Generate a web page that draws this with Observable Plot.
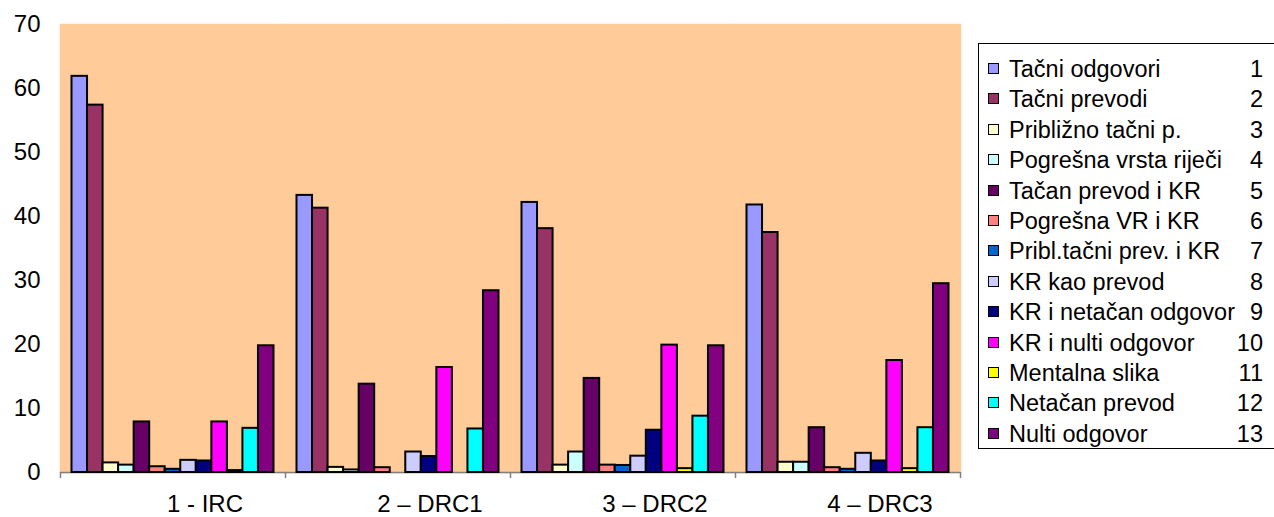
<!DOCTYPE html>
<html>
<head>
<meta charset="utf-8">
<script src="https://cdn.jsdelivr.net/npm/d3@7"></script>
<script src="https://cdn.jsdelivr.net/npm/@observablehq/plot@0.6"></script>
<style>
  html, body { margin: 0; padding: 0; background: #fff; overflow: hidden; }
  #wrap { position: relative; width: 1274px; height: 517px; font-family: "Liberation Sans", Arial, sans-serif; }
  #legend { position: absolute; left: 978px; top: 43px; width: 320px; height: 406px; border: 1px solid #000; box-sizing: border-box; background: #fff; }
  .row { position: absolute; left: 0; height: 30px; width: 296px; font-size: 23.5px; line-height: 30px; color: #000; white-space: nowrap; }
  .sw { position: absolute; left: 9px; top: 9px; width: 9px; height: 9px; border: 1.5px solid #000; }
  .nm { position: absolute; left: 30px; top: 0; }
  .nu { position: absolute; right: 12px; top: 0; }
</style>
</head>
<body>
<div id="wrap"></div>
<script>
// ---- data ----
const groups = ["1 - IRC", "2 \u2013 DRC1", "3 \u2013 DRC2", "4 \u2013 DRC3"];
const seriesNames = [
  "Tačni odgovori", "Tačni prevodi", "Približno tačni p.", "Pogrešna vrsta riječi",
  "Tačan prevod i KR", "Pogrešna VR i KR", "Pribl.tačni prev. i KR", "KR kao prevod",
  "KR i netačan odgovor", "KR i nulti odgovor", "Mentalna slika", "Netačan prevod", "Nulti odgovor"
];
const seriesColors = [
  "#9999FF", "#993366", "#FFFFCC", "#CCFFFF", "#660066", "#FF8080", "#0066CC",
  "#CCCCFF", "#000080", "#FF00FF", "#FFFF00", "#00FFFF", "#800080"
];
const irc  = [61.9, 57.4, 1.5, 1.15, 7.9, 0.9, 0.5, 1.9, 1.8, 7.9, 0.3, 6.9, 19.8];
const drc1 = [43.3, 41.3, 0.8, 0.4, 13.8, 0.75, 0, 3.2, 2.5, 16.4, 0, 6.8, 28.4];
const drc2 = [42.2, 38.1, 1.15, 3.2, 14.7, 1.15, 1.1, 2.55, 6.6, 19.9, 0.6, 8.8, 19.8];
const drc3 = [41.8, 37.5, 1.6, 1.6, 7.0, 0.75, 0.5, 3.0, 1.8, 17.5, 0.6, 7.0, 29.5];
const yTicks = [0, 10, 20, 30, 40, 50, 60, 70];

// ---- build table ----
const groupValues = [irc, drc1, drc2, drc3];
const rows = [];
groups.forEach((g, gi) => {
  groupValues[gi].forEach((v, si) => {
    rows.push({g, i: si + 1, name: seriesNames[si], value: v});
  });
});
const pad = 0.74;
const xDomain = [0.5 - pad, seriesNames.length + 0.5 + pad];
const tickData = groups.map(g => ({g, x: xDomain[0]}));
tickData.push({g: groups[groups.length - 1], x: xDomain[1]});

const chart = Plot.plot({
  width: 1274,
  height: 517,
  marginLeft: 60,
  marginRight: 314,
  marginTop: 24,
  marginBottom: 45,
  style: {fontFamily: '"Liberation Sans", Arial, sans-serif', color: "#000", background: "transparent"},
  fx: {domain: groups, padding: 0, label: null},
  x: {domain: xDomain, axis: null},
  y: {domain: [0, 70], axis: null},
  color: {domain: seriesNames, range: seriesColors},
  marks: [
    Plot.frame({fill: "#FFCC99", stroke: "#FFCC99", strokeWidth: 1.5}),
    Plot.ruleY([0], {stroke: "#808080", strokeWidth: 1.5}),
    Plot.ruleX(tickData, {fx: "g", x: "x", y1: 0, y2: -0.95, stroke: "#808080", strokeWidth: 1.5}),
    Plot.rectY(rows, {
      fx: "g",
      x1: d => d.i - 0.5,
      x2: d => d.i + 0.5,
      y1: 0,
      y2: "value",
      fill: "name",
      stroke: "#000",
      strokeWidth: 2
    }),
    Plot.axisY({ticks: yTicks, tickSize: 0, tickPadding: 20, fontSize: 24, label: null, tickFormat: d => String(d)}),
    Plot.axisFx({anchor: "bottom", tickSize: 0, tickPadding: 22, dx: 32, fontSize: 24, label: null})
  ]
});

const wrap = document.getElementById("wrap");
chart.style.position = "absolute";
chart.style.left = "0px";
chart.style.top = "0px";
wrap.appendChild(chart);

// ---- legend ----
const legend = document.createElement("div");
legend.id = "legend";
seriesNames.forEach((n, k) => {
  const r = document.createElement("div");
  r.className = "row";
  r.style.top = (10 + k * 30.4) + "px";
  const sw = document.createElement("div");
  sw.className = "sw";
  sw.style.background = seriesColors[k];
  const nm = document.createElement("span");
  nm.className = "nm";
  nm.textContent = n;
  const nu = document.createElement("span");
  nu.className = "nu";
  nu.textContent = String(k + 1);
  r.appendChild(sw); r.appendChild(nm); r.appendChild(nu);
  legend.appendChild(r);
});
wrap.appendChild(legend);
</script>
</body>
</html>
